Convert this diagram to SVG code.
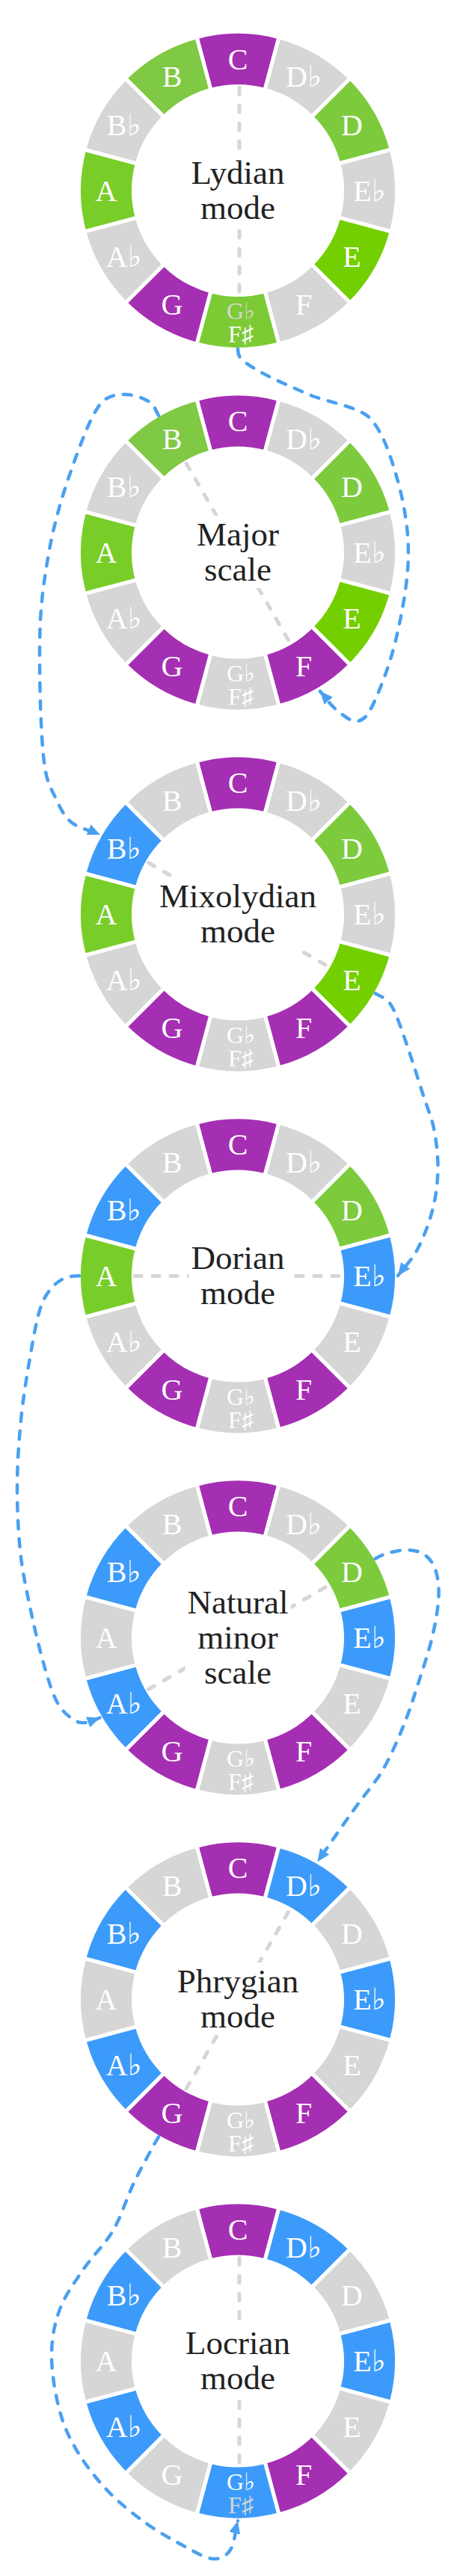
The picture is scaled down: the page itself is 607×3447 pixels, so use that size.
<svg xmlns="http://www.w3.org/2000/svg" xmlns:xlink="http://www.w3.org/1999/xlink" width="607" height="3447" viewBox="0 0 607 3447">
<style>
.s{stroke:#fff;stroke-width:5;stroke-linejoin:miter}
.p{fill:#a52fb3}.g{fill:#d6d6d6}.b{fill:#3c9bfa}
.gB{fill:#80c944}.gD{fill:#7dcb3d}.gE{fill:#74cf00}.gA{fill:#79cd29}.gF{fill:#7ccb35}
.n{font-family:"Liberation Serif","DejaVu Serif",serif;font-size:40px;fill:#fff;text-anchor:middle}
.sm{font-size:32px}
.dim{fill:#d6d6d6}
.t{font-family:"Liberation Serif","DejaVu Serif",serif;font-size:45px;fill:#222;text-anchor:middle}
.tri{stroke:#d6d6d6;stroke-width:5;stroke-dasharray:9 15;stroke-linecap:round;fill:none}
.bg{fill:#fff}
.con{fill:none;stroke:#4aa0f0;stroke-width:4.5;stroke-dasharray:11 13;stroke-linecap:round;marker-end:url(#arrow)}
</style>
<defs>
<marker id="arrow" markerUnits="userSpaceOnUse" markerWidth="17" markerHeight="15" viewBox="0 0 17 15" refX="17" refY="7.5" orient="auto"><path d="M0,0 L17,7.5 L0,15 Z" fill="#4aa0f0"/></marker>
<path id="s0" d="M-55,-205.26 A212.5,212.5 0 0 1 55,-205.26 L36.11,-134.75 A139.5,139.5 0 0 0 -36.11,-134.75Z"/>
<path id="s1" d="M55,-205.26 A212.5,212.5 0 0 1 150.26,-150.26 L98.64,-98.64 A139.5,139.5 0 0 0 36.11,-134.75Z"/>
<path id="s2" d="M150.26,-150.26 A212.5,212.5 0 0 1 205.26,-55 L134.75,-36.11 A139.5,139.5 0 0 0 98.64,-98.64Z"/>
<path id="s3" d="M205.26,-55 A212.5,212.5 0 0 1 205.26,55 L134.75,36.11 A139.5,139.5 0 0 0 134.75,-36.11Z"/>
<path id="s4" d="M205.26,55 A212.5,212.5 0 0 1 150.26,150.26 L98.64,98.64 A139.5,139.5 0 0 0 134.75,36.11Z"/>
<path id="s5" d="M150.26,150.26 A212.5,212.5 0 0 1 55,205.26 L36.11,134.75 A139.5,139.5 0 0 0 98.64,98.64Z"/>
<path id="s6" d="M55,205.26 A212.5,212.5 0 0 1 -55,205.26 L-36.11,134.75 A139.5,139.5 0 0 0 36.11,134.75Z"/>
<path id="s7" d="M-55,205.26 A212.5,212.5 0 0 1 -150.26,150.26 L-98.64,98.64 A139.5,139.5 0 0 0 -36.11,134.75Z"/>
<path id="s8" d="M-150.26,150.26 A212.5,212.5 0 0 1 -205.26,55 L-134.75,36.11 A139.5,139.5 0 0 0 -98.64,98.64Z"/>
<path id="s9" d="M-205.26,55 A212.5,212.5 0 0 1 -205.26,-55 L-134.75,-36.11 A139.5,139.5 0 0 0 -134.75,36.11Z"/>
<path id="s10" d="M-205.26,-55 A212.5,212.5 0 0 1 -150.26,-150.26 L-98.64,-98.64 A139.5,139.5 0 0 0 -134.75,-36.11Z"/>
<path id="s11" d="M-150.26,-150.26 A212.5,212.5 0 0 1 -55,-205.26 L-36.11,-134.75 A139.5,139.5 0 0 0 -98.64,-98.64Z"/>
</defs>
<rect width="607" height="3447" fill="#fff"/>

<g id="lydian" transform="translate(318,255)">
<use href="#s0" class="s p"/><use href="#s1" class="s g"/><use href="#s2" class="s gD"/><use href="#s3" class="s g"/><use href="#s4" class="s gE"/><use href="#s5" class="s g"/><use href="#s6" class="s gF"/><use href="#s7" class="s p"/><use href="#s8" class="s g"/><use href="#s9" class="s gA"/><use href="#s10" class="s g"/><use href="#s11" class="s gB"/>
<line class="tri" x1="2" y1="-138" x2="2" y2="138"/>
<rect class="bg" x="-67" y="-49.5" width="134" height="97"/>
<text class="t" x="0" y="-9.5">Lydian</text><text class="t" x="0" y="37.5">mode</text>
<text class="n" x="0" y="-162.5">C</text><text class="n" x="88" y="-138.9">D♭</text><text class="n" x="152.4" y="-74.5">D</text><text class="n" x="176" y="13.5">E♭</text><text class="n" x="152.4" y="101.5">E</text><text class="n" x="88" y="165.9">F</text>
<text class="n sm dim" x="4" y="172.3">G♭</text><text class="n sm" x="4" y="203.3">F♯</text>
<text class="n" x="-88" y="165.9">G</text><text class="n" x="-152.4" y="101.5">A♭</text><text class="n" x="-176" y="13.5">A</text><text class="n" x="-152.4" y="-74.5">B♭</text><text class="n" x="-88" y="-138.9">B</text>
</g>

<g id="major" transform="translate(318,739.5)">
<use href="#s0" class="s p"/><use href="#s1" class="s g"/><use href="#s2" class="s gD"/><use href="#s3" class="s g"/><use href="#s4" class="s gE"/><use href="#s5" class="s p"/><use href="#s6" class="s g"/><use href="#s7" class="s p"/><use href="#s8" class="s g"/><use href="#s9" class="s gA"/><use href="#s10" class="s g"/><use href="#s11" class="s gB"/>
<line class="tri" x1="-69" y1="-119.5" x2="69" y2="119.5"/>
<rect class="bg" x="-58" y="-49.5" width="116" height="97"/>
<text class="t" x="0" y="-9.5">Major</text><text class="t" x="0" y="37.5">scale</text>
<text class="n" x="0" y="-162.5">C</text><text class="n" x="88" y="-138.9">D♭</text><text class="n" x="152.4" y="-74.5">D</text><text class="n" x="176" y="13.5">E♭</text><text class="n" x="152.4" y="101.5">E</text><text class="n" x="88" y="165.9">F</text>
<text class="n sm" x="4" y="172.3">G♭</text><text class="n sm" x="4" y="203.3">F♯</text>
<text class="n" x="-88" y="165.9">G</text><text class="n" x="-152.4" y="101.5">A♭</text><text class="n" x="-176" y="13.5">A</text><text class="n" x="-152.4" y="-74.5">B♭</text><text class="n" x="-88" y="-138.9">B</text>
</g>

<g id="mixolydian" transform="translate(318,1223.5)">
<use href="#s0" class="s p"/><use href="#s1" class="s g"/><use href="#s2" class="s gD"/><use href="#s3" class="s g"/><use href="#s4" class="s gE"/><use href="#s5" class="s p"/><use href="#s6" class="s g"/><use href="#s7" class="s p"/><use href="#s8" class="s g"/><use href="#s9" class="s gA"/><use href="#s10" class="s b"/><use href="#s11" class="s g"/>
<line class="tri" x1="-119.5" y1="-69" x2="119.5" y2="69"/>
<rect class="bg" x="-108" y="-49.5" width="216" height="97"/>
<text class="t" x="0" y="-9.5">Mixolydian</text><text class="t" x="0" y="37.5">mode</text>
<text class="n" x="0" y="-162.5">C</text><text class="n" x="88" y="-138.9">D♭</text><text class="n" x="152.4" y="-74.5">D</text><text class="n" x="176" y="13.5">E♭</text><text class="n" x="152.4" y="101.5">E</text><text class="n" x="88" y="165.9">F</text>
<text class="n sm" x="4" y="172.3">G♭</text><text class="n sm" x="4" y="203.3">F♯</text>
<text class="n" x="-88" y="165.9">G</text><text class="n" x="-152.4" y="101.5">A♭</text><text class="n" x="-176" y="13.5">A</text><text class="n" x="-152.4" y="-74.5">B♭</text><text class="n" x="-88" y="-138.9">B</text>
</g>

<g id="dorian" transform="translate(318,1707.5)">
<use href="#s0" class="s p"/><use href="#s1" class="s g"/><use href="#s2" class="s gD"/><use href="#s3" class="s b"/><use href="#s4" class="s g"/><use href="#s5" class="s p"/><use href="#s6" class="s g"/><use href="#s7" class="s p"/><use href="#s8" class="s g"/><use href="#s9" class="s gA"/><use href="#s10" class="s b"/><use href="#s11" class="s g"/>
<line class="tri" x1="-138" y1="0" x2="138" y2="0"/>
<rect class="bg" x="-65.5" y="-49.5" width="131" height="97"/>
<text class="t" x="0" y="-9.5">Dorian</text><text class="t" x="0" y="37.5">mode</text>
<text class="n" x="0" y="-162.5">C</text><text class="n" x="88" y="-138.9">D♭</text><text class="n" x="152.4" y="-74.5">D</text><text class="n" x="176" y="13.5">E♭</text><text class="n" x="152.4" y="101.5">E</text><text class="n" x="88" y="165.9">F</text>
<text class="n sm" x="4" y="172.3">G♭</text><text class="n sm" x="4" y="203.3">F♯</text>
<text class="n" x="-88" y="165.9">G</text><text class="n" x="-152.4" y="101.5">A♭</text><text class="n" x="-176" y="13.5">A</text><text class="n" x="-152.4" y="-74.5">B♭</text><text class="n" x="-88" y="-138.9">B</text>
</g>

<g id="natural-minor" transform="translate(318,2191.5)">
<use href="#s0" class="s p"/><use href="#s1" class="s g"/><use href="#s2" class="s gD"/><use href="#s3" class="s b"/><use href="#s4" class="s g"/><use href="#s5" class="s p"/><use href="#s6" class="s g"/><use href="#s7" class="s p"/><use href="#s8" class="s b"/><use href="#s9" class="s g"/><use href="#s10" class="s b"/><use href="#s11" class="s g"/>
<line class="tri" x1="-119.5" y1="69" x2="119.5" y2="-69"/>
<rect class="bg" x="-70.5" y="-73" width="141" height="144"/>
<text class="t" x="0" y="-33">Natural</text><text class="t" x="0" y="14">minor</text><text class="t" x="0" y="61">scale</text>
<text class="n" x="0" y="-162.5">C</text><text class="n" x="88" y="-138.9">D♭</text><text class="n" x="152.4" y="-74.5">D</text><text class="n" x="176" y="13.5">E♭</text><text class="n" x="152.4" y="101.5">E</text><text class="n" x="88" y="165.9">F</text>
<text class="n sm" x="4" y="172.3">G♭</text><text class="n sm" x="4" y="203.3">F♯</text>
<text class="n" x="-88" y="165.9">G</text><text class="n" x="-152.4" y="101.5">A♭</text><text class="n" x="-176" y="13.5">A</text><text class="n" x="-152.4" y="-74.5">B♭</text><text class="n" x="-88" y="-138.9">B</text>
</g>

<g id="phrygian" transform="translate(318,2675.5)">
<use href="#s0" class="s p"/><use href="#s1" class="s b"/><use href="#s2" class="s g"/><use href="#s3" class="s b"/><use href="#s4" class="s g"/><use href="#s5" class="s p"/><use href="#s6" class="s g"/><use href="#s7" class="s p"/><use href="#s8" class="s b"/><use href="#s9" class="s g"/><use href="#s10" class="s b"/><use href="#s11" class="s g"/>
<line class="tri" x1="-69" y1="119.5" x2="69" y2="-119.5"/>
<rect class="bg" x="-84.5" y="-49.5" width="169" height="97"/>
<text class="t" x="0" y="-9.5">Phrygian</text><text class="t" x="0" y="37.5">mode</text>
<text class="n" x="0" y="-162.5">C</text><text class="n" x="88" y="-138.9">D♭</text><text class="n" x="152.4" y="-74.5">D</text><text class="n" x="176" y="13.5">E♭</text><text class="n" x="152.4" y="101.5">E</text><text class="n" x="88" y="165.9">F</text>
<text class="n sm" x="4" y="172.3">G♭</text><text class="n sm" x="4" y="203.3">F♯</text>
<text class="n" x="-88" y="165.9">G</text><text class="n" x="-152.4" y="101.5">A♭</text><text class="n" x="-176" y="13.5">A</text><text class="n" x="-152.4" y="-74.5">B♭</text><text class="n" x="-88" y="-138.9">B</text>
</g>

<g id="locrian" transform="translate(318,3159.5)">
<use href="#s0" class="s p"/><use href="#s1" class="s b"/><use href="#s2" class="s g"/><use href="#s3" class="s b"/><use href="#s4" class="s g"/><use href="#s5" class="s p"/><use href="#s6" class="s b"/><use href="#s7" class="s g"/><use href="#s8" class="s b"/><use href="#s9" class="s g"/><use href="#s10" class="s b"/><use href="#s11" class="s g"/>
<line class="tri" x1="2" y1="-138" x2="2" y2="138"/>
<rect class="bg" x="-73" y="-49.5" width="146" height="97"/>
<text class="t" x="0" y="-9.5">Locrian</text><text class="t" x="0" y="37.5">mode</text>
<text class="n" x="0" y="-162.5">C</text><text class="n" x="88" y="-138.9">D♭</text><text class="n" x="152.4" y="-74.5">D</text><text class="n" x="176" y="13.5">E♭</text><text class="n" x="152.4" y="101.5">E</text><text class="n" x="88" y="165.9">F</text>
<text class="n sm" x="4" y="172.3">G♭</text><text class="n sm dim" x="4" y="203.3">F♯</text>
<text class="n" x="-88" y="165.9">G</text><text class="n" x="-152.4" y="101.5">A♭</text><text class="n" x="-176" y="13.5">A</text><text class="n" x="-152.4" y="-74.5">B♭</text><text class="n" x="-88" y="-138.9">B</text>
</g>

<g id="connectors">
<path id="c1" class="con" d="M318 467 C318 479 323.3 482.5 340 493 C356.7 503.5 392.7 519.3 418 530 C443.3 539 472 543 492 557 C510.7 574.8 521 606.5 530 637 C539 667.5 546 704 546 740 C546 776 537.7 819.7 530 853 C522.3 886.3 508.7 921.3 500 940 C491.3 958.7 486.3 963.3 478 965 C469.7 966.7 458.3 956.7 450 950 C441.7 943.3 435.3 933.3 428 925"/>
<path id="c2" class="con" d="M212 556 C208 549 206.8 542.7 200 538 C193.2 533.3 180.5 528.8 171 528 C161.5 527.2 150.8 528.2 143 533 C135.2 537.8 131 543.7 124 557 C117 570.3 108.5 592.5 101 613 C93.5 633.5 85.2 657.7 79 680 C72.8 702.3 68.2 722 64 747 C59.8 772 55.7 797.8 54 830 C52.3 862.2 53 907.2 54 940 C55 972.8 56.7 1005.8 60 1027 C63.3 1048.2 68.2 1054.8 74 1067 C79.8 1079.2 85 1091.7 95 1100 C105 1108.3 121 1111.3 134 1117"/>
<path id="c3" class="con" d="M501.6 1329.3 C508.5 1333.3 514.1 1334.6 519 1340 C523.9 1345.5 526.2 1350.3 531 1362 C535.8 1373.7 542.2 1392.7 548 1410 C553.8 1427.3 560.7 1449.3 566 1466 C571.3 1482.7 576.75 1493.5 580 1510 C583.25 1526.5 585.8 1546.7 585.5 1565 C585.2 1583.3 582.6 1602.2 578 1620 C573.4 1637.8 565.7 1657.5 558 1672 C550.3 1686.5 540.7 1695.3 532 1707"/>
<path id="c4" class="con" d="M106 1707.3 C98 1707.3 91.7 1707.7 85 1711 C78.3 1714.3 71.5 1719.3 66 1727 C60.5 1734.7 56.5 1741 52 1757 C47.5 1773 43 1799.2 39 1823 C35 1846.8 30.7 1872.7 28 1900 C25.3 1927.3 23.2 1957.8 23 1987 C22.8 2016.2 24.2 2047.8 27 2075 C29.8 2102.2 34.8 2125 40 2150 C45.2 2175 52 2203.8 58 2225 C64 2246.2 69.3 2264.3 76 2277 C82.7 2289.7 91.3 2296.3 98 2301 C104.7 2305.7 110.1 2305.4 116 2305 C121.9 2304.6 127.7 2300.7 133.5 2298.5"/>
<path id="c5" class="con" d="M501.6 2085.7 C508.5 2081.7 512.8 2080 520 2078 C527.2 2076 537.2 2073.7 545 2074 C552.8 2074.3 560.8 2075.7 567 2080 C573.2 2084.3 578.75 2090.5 582 2100 C585.25 2109.5 587.2 2122 586.5 2137 C585.8 2152 582.4 2171.2 578 2190 C573.6 2208.8 566.3 2230.3 560 2250 C553.7 2269.7 548 2288.3 540 2308 C532 2327.7 522 2350.7 512 2368 C502 2385.3 489.8 2398.3 480 2412 C470.2 2425.7 462.25 2436.8 453 2450 C443.75 2463.2 434 2477.5 424.5 2491.3"/>
<path id="c6" class="con" d="M212 2859.4 C208 2866.3 207.7 2866.4 202 2877 C196.3 2887.6 186.5 2905 178 2923 C169.5 2941 162 2966.2 151 2985 C140 3003.8 123.8 3018.5 112 3036 C100.2 3053.5 87.2 3070.8 80 3090 C72.8 3109.2 69.2 3128.8 69 3151 C68.8 3173.2 73.5 3201.8 79 3223 C84.5 3244.2 91.3 3259.8 102 3278 C112.7 3296.2 127.7 3315.75 143 3332 C158.3 3348.25 176.5 3362.8 194 3375.5 C211.5 3388.2 232.8 3399.9 248 3408 C263.2 3416.1 275 3423.3 285 3424 C295 3424.7 302.5 3420.45 308 3412 C313.5 3403.55 314.7 3386.2 318 3373.3"/>
</g>
</svg>
